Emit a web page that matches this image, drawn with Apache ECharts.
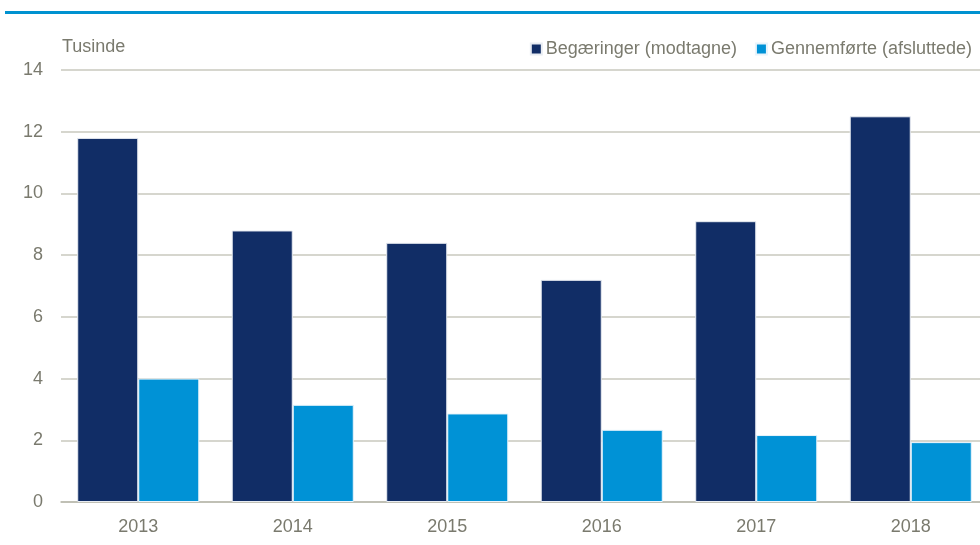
<!DOCTYPE html>
<html lang="da">
<head>
<meta charset="utf-8">
<script src="https://cdn.jsdelivr.net/npm/echarts@6/dist/echarts.min.js"></script>
<style>
  html, body { margin: 0; padding: 0; background: #fff; overflow: hidden; }
  #main { width: 988px; height: 545px; }
</style>
</head>
<body>
<div id="main"></div>
<script>
    var years = ['2013', '2014', '2015', '2016', '2017', '2018'];
    var modtagne = [11.8, 8.8, 8.4, 7.2, 9.1, 12.5];
    var afsluttede = [4.0, 3.15, 2.87, 2.34, 2.17, 1.94];
    var yTicks = [0, 2, 4, 6, 8, 10, 12, 14];

    var font = '"Liberation Sans Narrow", "Liberation Sans", Arial, sans-serif';
    var grey = '#7a7a6e';

    // the plot runs a little past the right edge of the window, as in the original
    var myChart = echarts.init(document.getElementById('main'));
    myChart.setOption({
        animation: false,
        graphic: [{
            type: 'rect',
            shape: { x: 5, y: 11, width: 983, height: 3 },
            style: { fill: '#0092d0' }
        }, {
            type: 'text',
            left: 62, top: 38,
            style: { text: 'Tusinde', fill: grey, font: '18px ' + font }
        }],
        legend: {
            right: 11, top: 35,
            itemWidth: 11, itemHeight: 11, itemGap: 18,
            icon: 'rect',
            textStyle: { color: grey, fontSize: 18, fontFamily: font, padding: [0, 0, 0, -1] },
            data: ['Begæringer (modtagne)', 'Gennemførte (afsluttede)']
        },
        grid: { left: 61, top: 70, right: 0, bottom: 43, containLabel: false },
        xAxis: {
            type: 'category',
            data: years,
            axisTick: { show: false },
            axisLine: { lineStyle: { color: '#b9b9ad', width: 1.5 } },
            axisLabel: { color: grey, fontSize: 18, fontFamily: font, margin: 16 }
        },
        yAxis: {
            type: 'value',
            min: yTicks[0], max: yTicks[yTicks.length - 1], interval: 2,
            axisLine: { show: false },
            axisTick: { show: false },
            axisLabel: { color: grey, fontSize: 18, fontFamily: font, margin: 18 },
            splitLine: { lineStyle: { color: '#c9c9be', width: 1.5 } }
        },
        series: [{
            name: 'Begæringer (modtagne)',
            type: 'bar',
            data: modtagne,
            barGap: '0%',
            barCategoryGap: '21%',
            itemStyle: { color: '#112d66', borderColor: '#e8ecf2', borderWidth: 1 }
        }, {
            name: 'Gennemførte (afsluttede)',
            type: 'bar',
            data: afsluttede,
            itemStyle: { color: '#0092d6', borderColor: '#e8f4fb', borderWidth: 1 }
        }]
    });
</script>
</body>
</html>
